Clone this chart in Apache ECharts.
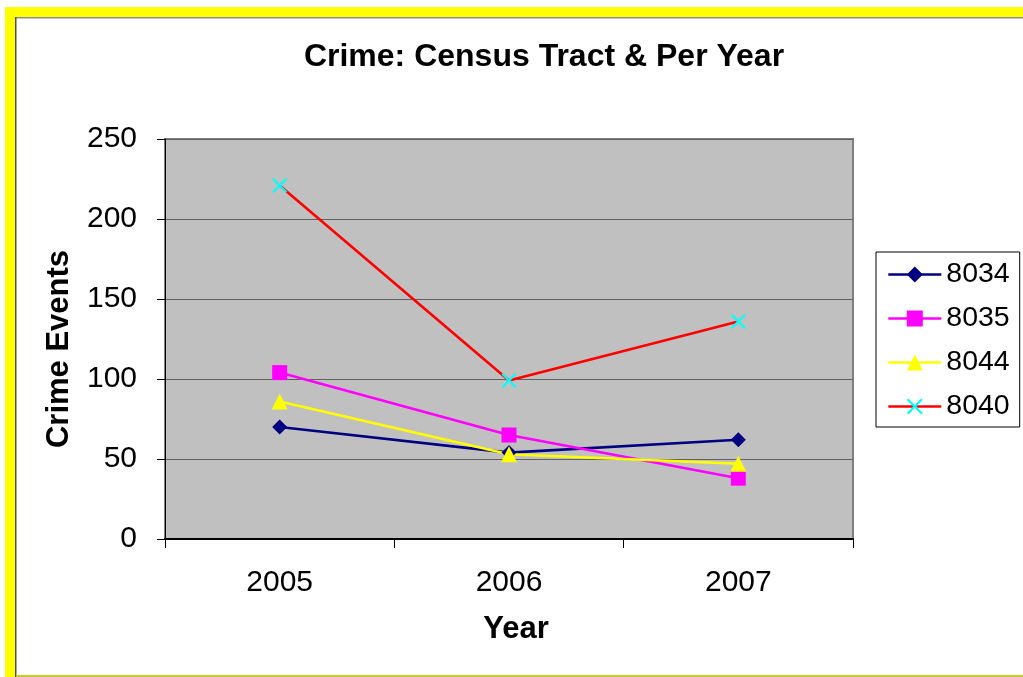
<!DOCTYPE html>
<html>
<head>
<meta charset="utf-8">
<title>Crime: Census Tract &amp; Per Year</title>
<script src="https://cdn.jsdelivr.net/npm/echarts@6/dist/echarts.min.js"></script>
<style>
  html, body { margin: 0; padding: 0; background: #ffffff; }
  #chart { width: 1023px; height: 677px; }
</style>
</head>
<body>
<div id="chart"></div>
<script>
// Years on the category axis
const years = ['2005', '2006', '2007'];

// Crime events per census tract
const tract8034 = [70, 54, 62];
const tract8035 = [104, 65, 38];
const tract8044 = [86, 53, 47];
const tract8040 = [221, 99, 136];

// Value axis ticks
const yTicks = [0, 50, 100, 150, 200, 250];

const FONT = '"Liberation Sans", Arial, sans-serif';
const crossPath = 'path://M0,1 L1,0 L5,4 L9,0 L10,1 L6,5 L10,9 L9,10 L5,6 L1,10 L0,9 L4,5 Z';

function lineSeries(name, data, lineColor, symbol, markerColor, size) {
  return {
    name: name,
    type: 'line',
    data: data,
    symbol: symbol,
    symbolSize: size,
    showAllSymbol: true,
    animation: false,
    lineStyle: { color: lineColor, width: 2.6 },
    itemStyle: { color: markerColor, borderWidth: 0 }
  };
}

const chart = echarts.init(document.getElementById('chart'), null, { renderer: 'canvas' });

chart.setOption({
  backgroundColor: '#ffffff',
  animation: false,
  title: {
    text: 'Crime: Census Tract & Per Year',
    left: 539,
    top: 36,
    textAlign: 'center',
    textStyle: { fontFamily: FONT, fontSize: 32, fontWeight: 'bold', color: '#000' }
  },
  grid: {
    left: 165,
    top: 139,
    width: 688,
    height: 400,
    show: true,
    backgroundColor: '#C0C0C0',
    borderColor: '#808080',
    borderWidth: 2
  },
  legend: {
    orient: 'vertical',
    left: 876,
    top: 252,
    padding: [8, 10, 6, 11],
    backgroundColor: '#ffffff',
    borderColor: '#000000',
    borderWidth: 1,
    itemWidth: 53,
    itemHeight: 20,
    itemGap: 15,
    itemTextGap: 5,
    lineStyle: { width: 2.6 },
    textStyle: { fontFamily: FONT, fontSize: 28.5, color: '#000' },
    data: ['8034', '8035', '8044', '8040']
  },
  xAxis: {
    type: 'category',
    data: years,
    boundaryGap: true,
    name: 'Year',
    nameLocation: 'middle',
    nameGap: 75,
    nameTextStyle: { fontFamily: FONT, fontSize: 31, fontWeight: 'bold', color: '#000', padding: [0, 0, 0, 14] },
    axisLine: { show: true, lineStyle: { color: '#000', width: 2 } },
    axisTick: { show: true, alignWithLabel: false, length: 9, lineStyle: { color: '#000', width: 1 } },
    axisLabel: { margin: 29, fontFamily: FONT, fontSize: 30, color: '#000' },
    splitLine: { show: false }
  },
  yAxis: {
    type: 'value',
    min: yTicks[0],
    max: yTicks[yTicks.length - 1],
    interval: 50,
    name: 'Crime Events',
    nameLocation: 'middle',
    nameGap: 90,
    nameTextStyle: { fontFamily: FONT, fontSize: 31, fontWeight: 'bold', color: '#000', padding: [0, 20, 0, 0] },
    axisLine: { show: true, lineStyle: { color: '#000', width: 1 } },
    axisTick: { show: true, inside: false, length: 8, lineStyle: { color: '#000', width: 1 } },
    axisLabel: { margin: 28, fontFamily: FONT, fontSize: 30, color: '#000' },
    splitLine: { show: true, lineStyle: { color: '#606060', width: 1 } }
  },
  series: [
    lineSeries('8034', tract8034, '#000080', 'diamond', '#000080', 15),
    lineSeries('8035', tract8035, '#FF00FF', 'rect', '#FF00FF', 15),
    lineSeries('8044', tract8044, '#FFFF00', 'triangle', '#FFFF00', 16),
    lineSeries('8040', tract8040, '#FF0000', crossPath, '#00FFFF', 15)
  ],
  graphic: [
    // yellow frame around the chart
    { type: 'rect', silent: true, z: 100, shape: { x: 5, y: 7, width: 1018, height: 10 }, style: { fill: '#FFFF00' } },
    { type: 'rect', silent: true, z: 100, shape: { x: 5, y: 7, width: 10, height: 670 }, style: { fill: '#FFFF00' } },
    { type: 'rect', silent: true, z: 100, shape: { x: 15, y: 17, width: 1008, height: 1.5 }, style: { fill: '#909090' } },
    { type: 'rect', silent: true, z: 100, shape: { x: 15, y: 17, width: 1.5, height: 660 }, style: { fill: '#505050' } },
    { type: 'rect', silent: true, z: 100, shape: { x: 16, y: 675, width: 1007, height: 2 }, style: { fill: '#C8C828' } }
  ]
});
</script>
</body>
</html>
